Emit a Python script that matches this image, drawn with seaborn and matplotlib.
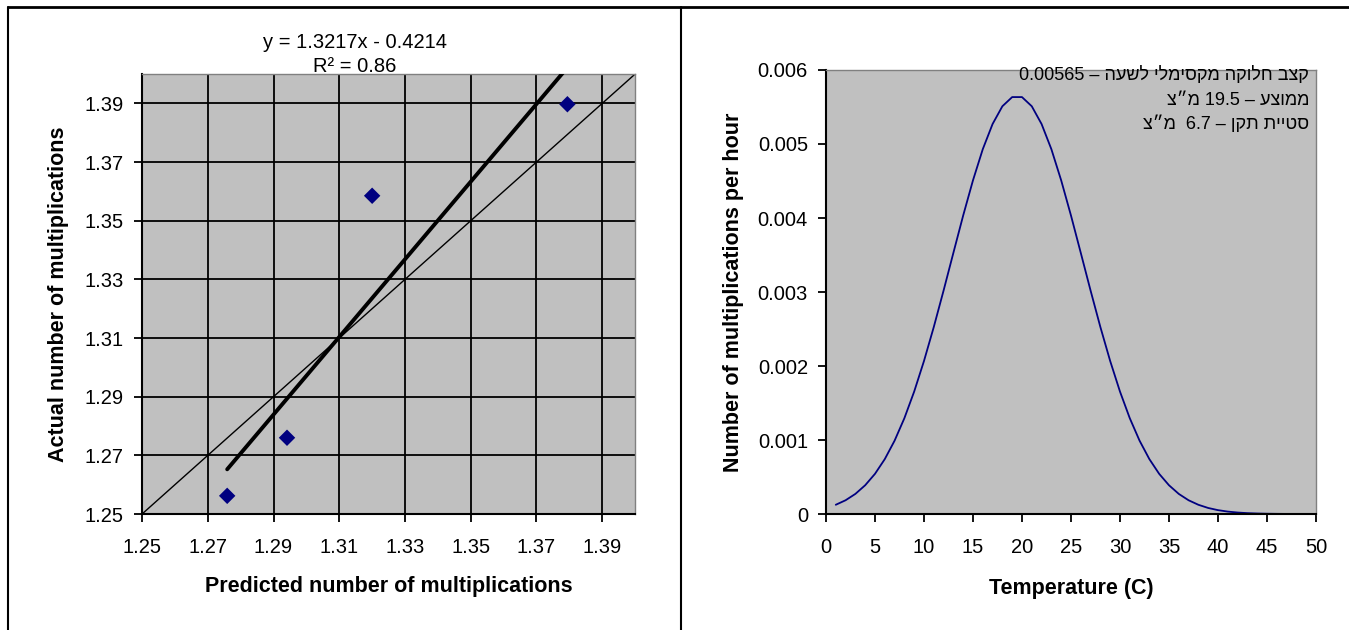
import re
import numpy as np
import pandas as pd
import matplotlib
matplotlib.use("Agg")
import matplotlib.pyplot as plt
from matplotlib.lines import Line2D
import seaborn as sns

# left chart: predicted vs actual
predicted = [1.2759, 1.2941, 1.3200, 1.3794]
actual = [1.2562, 1.2760, 1.3585, 1.3897]
left_ticks = [1.25, 1.27, 1.29, 1.31, 1.33, 1.35, 1.37, 1.39]
left_ticklabels = ["1.25", "1.27", "1.29", "1.31", "1.33", "1.35", "1.37", "1.39"]
eq_text = "y = 1.3217x - 0.4214"
r2_text = "R² = 0.86"

# right chart: multiplications per hour vs temperature
temp = list(range(1, 48))
rate = [0.000125, 0.000186, 0.000272, 0.000389, 0.000543, 0.000742, 0.000991,
        0.001295, 0.001655, 0.002068, 0.002527, 0.003020, 0.003529, 0.004034,
        0.004509, 0.004930, 0.005270, 0.005510, 0.005634, 0.005634, 0.005510,
        0.005270, 0.004930, 0.004509, 0.004034, 0.003529, 0.003020, 0.002527,
        0.002068, 0.001655, 0.001295, 0.000991, 0.000742, 0.000543, 0.000389,
        0.000272, 0.000186, 0.000125, 0.0000818, 0.0000524, 0.0000328,
        0.0000201, 0.0000120, 0.0000071, 0.0000040, 0.0000023, 0.0000012]
right_xticks = [0, 5, 10, 15, 20, 25, 30, 35, 40, 45, 50]
right_yticks = [0, 0.001, 0.002, 0.003, 0.004, 0.005, 0.006]
right_yticklabels = ["0", "0.001", "0.002", "0.003", "0.004", "0.005", "0.006"]
notes = ["קצב חלוקה מקסימלי לשעה – 0.00565",
         "ממוצע – 19.5 מ״צ",
         "סטיית תקן – 6.7  מ״צ"]


def visual(s):
    # matplotlib has no bidi support: flip to visual order, keep numbers readable
    r = s[::-1]
    return re.sub(r"[0-9.]+", lambda m: m.group()[::-1], r)


sns.set_style("white")
plt.rcParams["font.family"] = ["Liberation Sans", "DejaVu Sans"]
plt.rcParams["font.size"] = 14
plt.rcParams["text.color"] = "black"
plt.rcParams["axes.labelcolor"] = "black"
plt.rcParams["xtick.color"] = "black"
plt.rcParams["ytick.color"] = "black"

fig = plt.figure(figsize=(13.49, 6.30), dpi=100)
gray = "#C0C0C0"

# ---- left chart
ax1 = fig.add_axes([0.1053, 0.1841, 0.3655, 0.6984])
ax1.set_facecolor(gray)
ax1.plot([1.25, 1.40], [1.25, 1.40], color="black", lw=1.0, zorder=2)
sns.regplot(x=predicted, y=actual, ax=ax1, scatter=False, ci=None, truncate=True,
            line_kws=dict(color="black", lw=2.8, zorder=3))
sns.scatterplot(x=predicted, y=actual, ax=ax1, marker="D", s=70, color="#000080",
                edgecolor="none", zorder=4)
ax1.set_xlim(1.25, 1.40)
ax1.set_ylim(1.25, 1.40)
ax1.set_xticks(left_ticks)
ax1.set_xticklabels(left_ticklabels)
ax1.set_yticks(left_ticks)
ax1.set_yticklabels(left_ticklabels)
ax1.grid(True, color="black", lw=1.3)
ax1.set_axisbelow(True)
ax1.set_xlabel("Predicted number of multiplications", fontsize=15.5, fontweight="bold")
ax1.set_ylabel("Actual number of multiplications", fontsize=15.5, fontweight="bold")
ax1.xaxis.set_label_coords(0.5, -0.14)
ax1.yaxis.set_label_coords(-0.148, 0.5)
fig.text(0.263, 0.933, eq_text, ha="center", va="center", fontsize=14.5)
fig.text(0.263, 0.894, r2_text, ha="center", va="center", fontsize=14.5)

# ---- right chart
ax2 = fig.add_axes([0.6123, 0.1841, 0.3632, 0.7048])
ax2.set_facecolor(gray)
df = pd.DataFrame({"temp": temp, "rate": rate})
sns.lineplot(data=df, x="temp", y="rate", ax=ax2, color="#000080", lw=1.3)
ax2.set_xlim(0, 50)
ax2.set_ylim(0, 0.006)
ax2.set_xticks(right_xticks)
ax2.set_yticks(right_yticks)
ax2.set_yticklabels(right_yticklabels)
ax2.set_xlabel("Temperature (C)", fontsize=15.5, fontweight="bold")
ax2.set_ylabel("Number of multiplications per hour", fontsize=15.5, fontweight="bold")
ax2.xaxis.set_label_coords(0.5, -0.145)
ax2.yaxis.set_label_coords(-0.168, 0.5)
for note, yy in zip(notes, [0.989, 0.932, 0.878]):
    ax2.text(0.986, yy, visual(note), transform=ax2.transAxes, ha="right", va="center",
             fontsize=13, family=["Liberation Sans", "DejaVu Sans"])

for ax in (ax1, ax2):
    for side in ("top", "right"):
        ax.spines[side].set_color("#808080")
        ax.spines[side].set_linewidth(1.0)
    for side in ("left", "bottom"):
        ax.spines[side].set_color("black")
        ax.spines[side].set_linewidth(1.5)
    ax.tick_params(direction="out", length=6, width=1.3, color="black",
                   labelsize=14.5, left=True, bottom=True)
    ax.tick_params(axis="x", pad=11)
    ax.tick_params(axis="y", pad=7)

# page frame
fig.add_artist(Line2D([8 / 1349, 1.0], [1 - 7 / 630, 1 - 7 / 630], color="black", lw=2,
                      transform=fig.transFigure))
fig.add_artist(Line2D([8 / 1349, 8 / 1349], [0, 1 - 7 / 630], color="black", lw=1.5,
                      transform=fig.transFigure))
fig.add_artist(Line2D([681 / 1349, 681 / 1349], [0, 1 - 7 / 630], color="black", lw=1.5,
                      transform=fig.transFigure))

fig.savefig("out.png", dpi=100)
